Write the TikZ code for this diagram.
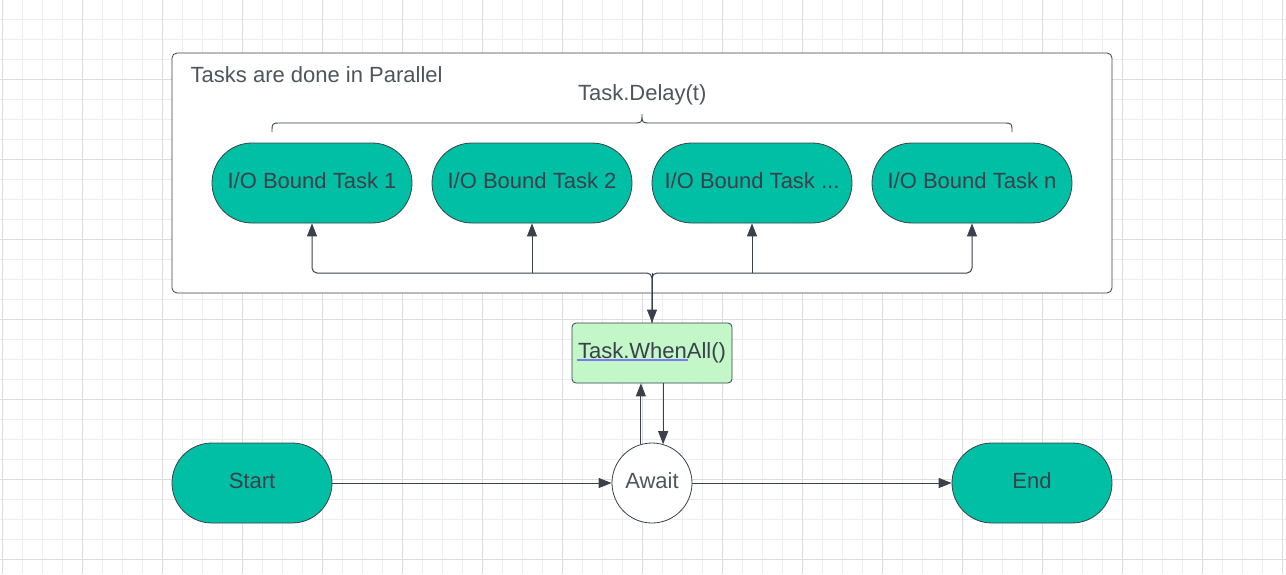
\documentclass[tikz,border=0pt]{standalone}
\usepackage{fontspec}
\setmainfont{Liberation Sans}
\usetikzlibrary{arrows.meta}
\definecolor{ink}{HTML}{3A414A}
\definecolor{labelgray}{HTML}{4F555D}
\definecolor{tealfill}{HTML}{00BFA5}
\definecolor{greenfill}{HTML}{C3F7C8}
\definecolor{minorgrid}{HTML}{EDEDED}
\definecolor{majorgrid}{HTML}{DDDDDD}
\definecolor{underl}{HTML}{7A7AF2}
\tikzset{
  bigfont/.style={font=\fontsize{22}{26}\selectfont},
  minorline/.style={draw=minorgrid, line width=1pt},
  majorline/.style={draw=majorgrid, line width=1.2pt},
  stadium/.style={draw=ink, line width=0.8pt, fill=tealfill, rounded corners=40pt,
    minimum height=80pt, inner sep=0pt, bigfont, text=ink, text height=16pt, text depth=5.3pt},
  tasknode/.style={stadium, minimum width=200pt},
  endnode/.style={stadium, minimum width=160pt},
  whenbox/.style={draw=ink, line width=0.8pt, fill=greenfill, rounded corners=4pt,
    minimum width=160pt, minimum height=60pt, inner sep=0pt, bigfont, text=ink, text height=16pt, text depth=5.3pt},
  awaitnode/.style={draw=ink, line width=0.8pt, fill=white, circle, minimum size=80pt,
    inner sep=0pt, bigfont, text=labelgray, text height=16pt, text depth=5.3pt},
  panel/.style={draw=ink, line width=0.8pt, fill=white, rounded corners=5pt,
    minimum width=940pt, minimum height=240pt, inner sep=0pt},
  conn/.style={draw=ink, line width=1pt, -{Triangle[length=13pt,width=10pt]}},
  bracestyle/.style={draw=ink, line width=0.9pt},
  lbl/.style={bigfont, text=labelgray, inner sep=0pt}
}
\begin{document}
\begin{tikzpicture}[x=1pt,y=-1pt]
\useasboundingbox (0,0) rectangle (1286,574);
\fill[white] (0,0) rectangle (1286,574);
% grid
\foreach \i in {0,...,64} \draw[minorline] ({2.7+20*\i},0) -- ({2.7+20*\i},574);
\foreach \j in {0,...,29} \draw[minorline] (0,{-0.7+20*\j}) -- (1286,{-0.7+20*\j});
\foreach \i in {0,...,16} \draw[majorline] ({2.7+80*\i},0) -- ({2.7+80*\i},574);
\foreach \j in {0,...,7} \draw[majorline] (0,{-0.7+80*\j}) -- (1286,{-0.7+80*\j});

% container
\node[panel] (box) at (642,173) {};
\node[lbl, anchor=base west] (boxlabel) at (190.5,82.7) {Tasks are done in Parallel};
\node[lbl, anchor=base] (delay) at (642.2,100.7) {Task.Delay(t)};
\draw[bracestyle] (272,132) .. controls (272,123) .. (281,123) -- (633,123)
  .. controls (642,123) .. (642,114) .. controls (642,123) .. (651,123)
  -- (1003,123) .. controls (1012,123) .. (1012,132);

% tasks
\node[tasknode] (t1) at (312,183) {I/O Bound Task 1};
\node[tasknode] (t2) at (532,183) {I/O Bound Task 2};
\node[tasknode] (t3) at (752,183) {I/O Bound Task ...};
\node[tasknode] (t4) at (972,183) {I/O Bound Task n};

% when all
\node[whenbox] (when) at (652,353) {Task.WhenAll()};
\draw[underl, line width=1.8pt] (576.5,359.6) -- (687.7,359.6);

% bottom row
\node[endnode] (start) at (252,483) {Start};
\node[awaitnode] (await) at (652,483) {Await};
\node[endnode] (end) at (1032,483) {End};

% connectors
\coordinate (j) at (652,273);
\draw[conn, rounded corners=5pt] (when.north) -- (j) -| (t1.south);
\draw[conn, rounded corners=5pt] (when.north) -- (j) -| (t4.south);
\draw[conn] (t2.south |- j) -- (t2.south);
\draw[conn] (t3.south |- j) -- (t3.south);
\draw[conn] (j) -- (when.north);
\draw[conn] (start.east) -- (await.west);
\draw[conn] (await.east) -- (end.west);
\draw[conn] (await.106) -- (await.106 |- when.south);
\draw[conn] (when.south -| await.74) -- (await.74);
\end{tikzpicture}
\end{document}
